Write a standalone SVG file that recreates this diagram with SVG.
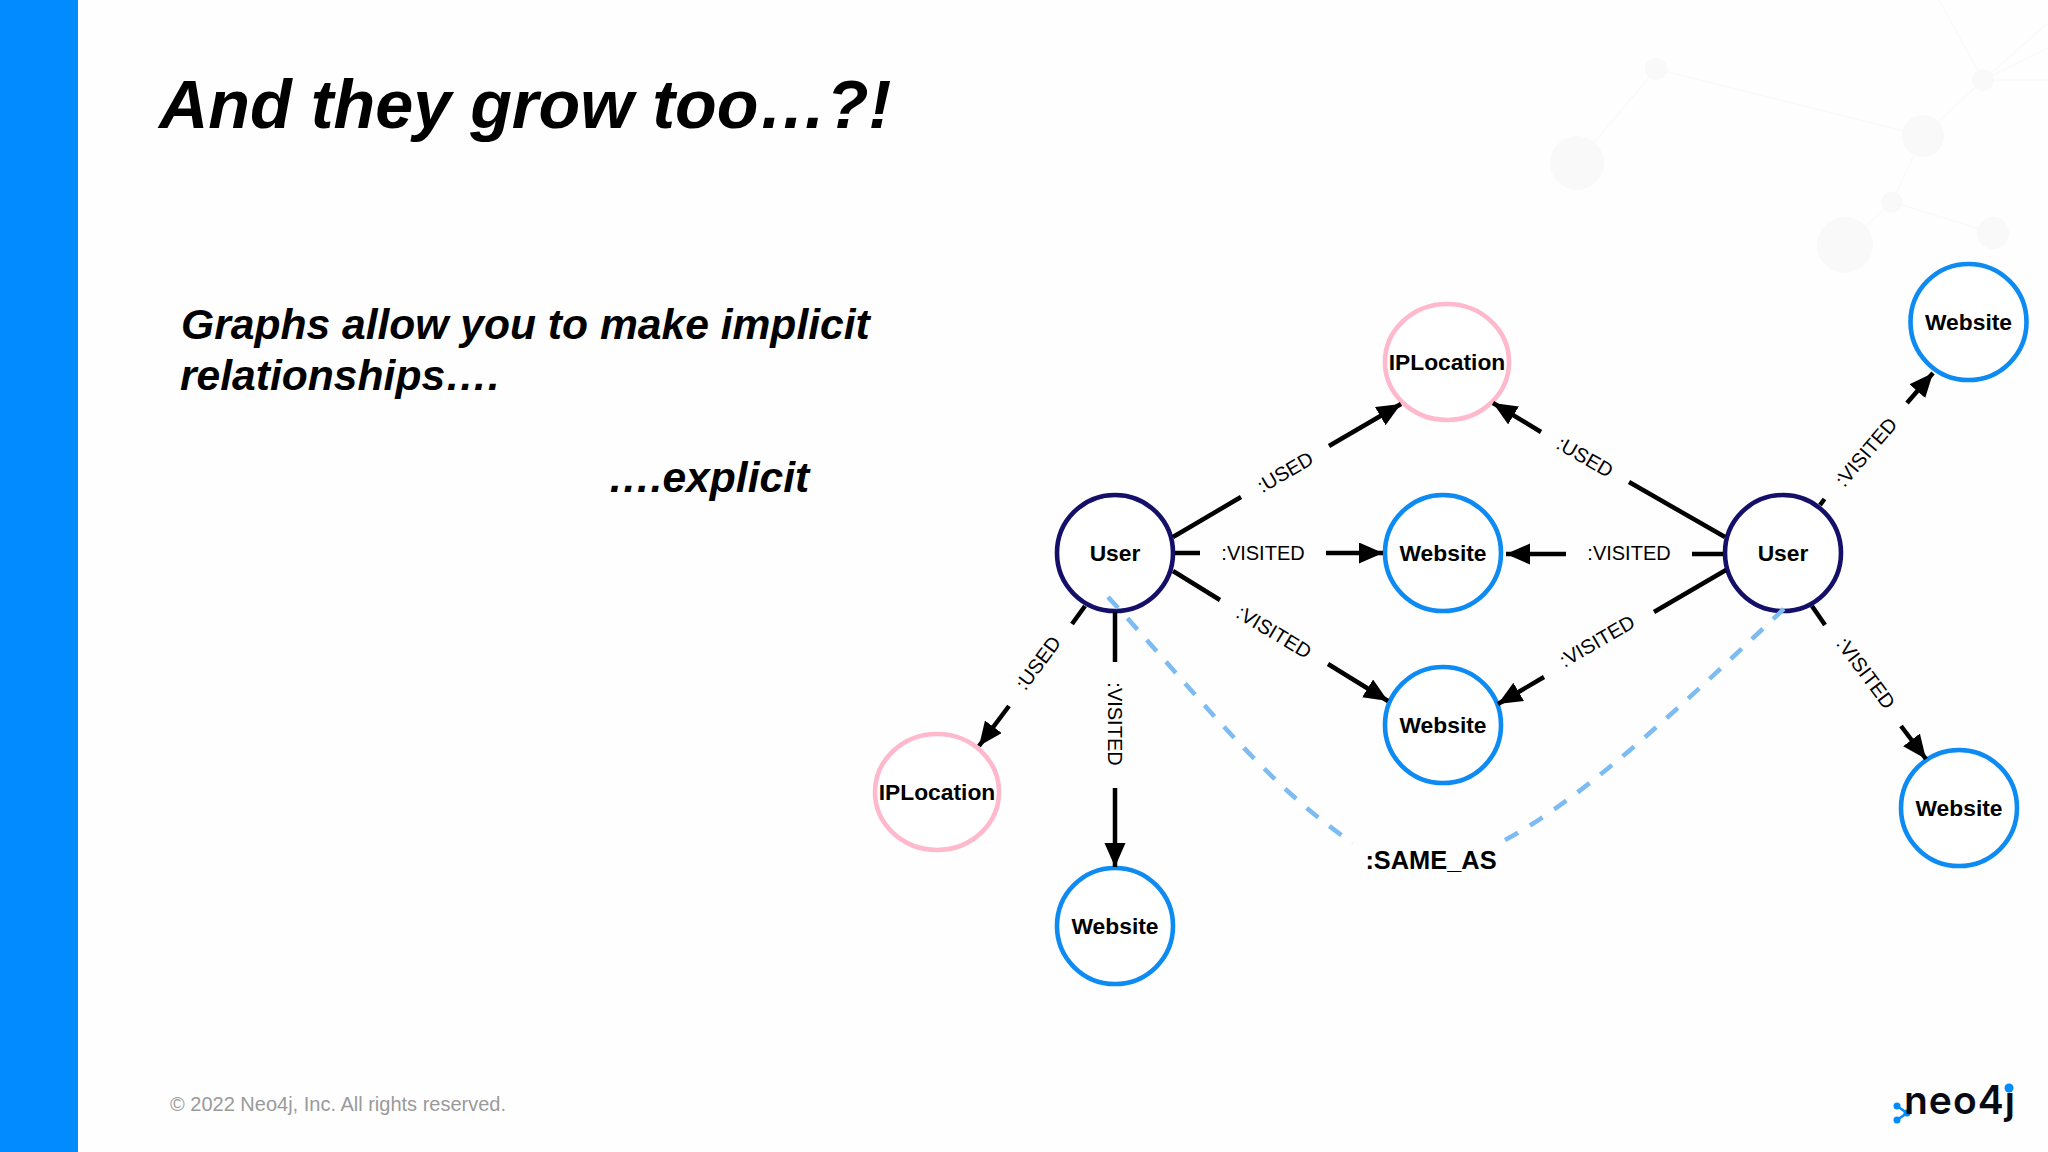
<svg xmlns="http://www.w3.org/2000/svg" width="2048" height="1152" viewBox="0 0 2048 1152">
<style>
text{font-family:"Liberation Sans",Arial,sans-serif}
.hd{font-weight:700;font-style:italic;fill:#000}
.nl{font-size:22.8px;font-weight:700;text-anchor:middle;fill:#000}
.el{font-size:20px;text-anchor:middle;fill:#000}
.nd{fill:#fff;stroke-width:4.6}
.web{stroke:#0d8bf3}.usr{stroke:#14106a}.ip{stroke:#ffb9cc}
.ln{fill:none;stroke:#000;stroke-width:4.5}
.ar{marker-end:url(#ah)}
.same{fill:none;stroke:#7dbbf3;stroke-width:4.6;stroke-dasharray:15 14}
.bgn{fill:#f8f9f8}.bgl{stroke:#f9faf9;stroke-width:1.5;fill:none}
</style>
<defs>
<marker id="ah" markerUnits="userSpaceOnUse" markerWidth="26" markerHeight="22" refX="24" refY="10.5" orient="auto"><path d="M0 0L24 10.5L0 21Z" fill="#000"/></marker>
</defs>
<rect width="2048" height="1152" fill="#fefefe"/>
<rect width="78" height="1152" fill="#018bff"/>
<g id="backdrop">
<path class="bgl" d="M1577 163L1656 69L1923 136L1983 80L1939 0M1923 136L1892 202L1845 245M1892 202L1993 233M1983 80L2048 80M1983 80L2048 48M1983 80L2048 23"/>
<circle class="bgn" cx="1577" cy="163" r="27"/><circle class="bgn" cx="1656" cy="69" r="11"/><circle class="bgn" cx="1923" cy="136" r="21"/><circle class="bgn" cx="1983" cy="80" r="11"/><circle class="bgn" cx="1892" cy="202" r="10.5"/><circle class="bgn" cx="1845" cy="245" r="28"/><circle class="bgn" cx="1993" cy="233" r="16"/>
</g>
<text class="hd" x="159" y="128" font-size="68.3">And they grow too…?!</text>
<text class="hd" x="181" y="339" font-size="42.6">Graphs allow you to make implicit</text>
<text class="hd" x="180" y="390" font-size="42.6">relationships….</text>
<text class="hd" x="608" y="492" font-size="42.6">….explicit</text>
<g id="nodes">
<g id="user1"><circle class="nd usr" cx="1115" cy="553" r="58"/><text class="nl" x="1115" y="561">User</text></g>
<g id="user2"><circle class="nd usr" cx="1783" cy="553" r="58"/><text class="nl" x="1783" y="561">User</text></g>
<g id="ip1"><ellipse class="nd ip" cx="1447" cy="362" rx="62" ry="58"/><text class="nl" x="1447" y="370">IPLocation</text></g>
<g id="ip2"><ellipse class="nd ip" cx="937" cy="792" rx="62" ry="58"/><text class="nl" x="937" y="800">IPLocation</text></g>
<g id="web1"><circle class="nd web" cx="1443" cy="553" r="58"/><text class="nl" x="1443" y="561">Website</text></g>
<g id="web2"><circle class="nd web" cx="1443" cy="725" r="58"/><text class="nl" x="1443" y="733">Website</text></g>
<g id="web3"><circle class="nd web" cx="1115" cy="926" r="58"/><text class="nl" x="1115" y="934">Website</text></g>
<g id="web4"><circle class="nd web" cx="1968.5" cy="322" r="58"/><text class="nl" x="1968.5" y="330">Website</text></g>
<g id="web5"><circle class="nd web" cx="1959" cy="808" r="58"/><text class="nl" x="1959" y="816">Website</text></g>
</g>
<g id="connectors">
<path class="ln" d="M1173 537L1241 497"/><path class="ln ar" d="M1329 446L1401 404"/>
<path class="ln" d="M1175 553L1200 553"/><path class="ln ar" d="M1326 553L1383 553"/>
<path class="ln" d="M1173 571L1220 600"/><path class="ln ar" d="M1328 664L1388 701"/>
<path class="ln" d="M1085 606L1072 624"/><path class="ln ar" d="M1009 706L979 746"/>
<path class="ln" d="M1115 612L1115 662"/><path class="ln ar" d="M1115 788L1115 867"/>
<path class="ln" d="M1725 537L1629 482"/><path class="ln ar" d="M1541 432L1493 403"/>
<path class="ln" d="M1723 554L1692 554"/><path class="ln ar" d="M1566 554L1506 554"/>
<path class="ln" d="M1726 570L1654 612"/><path class="ln ar" d="M1544 677L1498 704"/>
<path class="ln" d="M1820 505L1824.5 499"/><path class="ln ar" d="M1907 403L1933 373"/>
<path class="ln" d="M1812 606L1825 625"/><path class="ln ar" d="M1901 726L1926 759"/>
<path class="same" d="M1108 597C1185 680 1265 785 1353 843"/>
<path class="same" d="M1505 840C1590 795 1700 688 1788 605"/>
<g id="edge-labels">
<text class="el" y="7" transform="translate(1285 472) rotate(-30.3)">:USED</text>
<text class="el" y="7" transform="translate(1263 553)">:VISITED</text>
<text class="el" y="7" transform="translate(1274 632) rotate(31)">:VISITED</text>
<text class="el" y="7" transform="translate(1038 663) rotate(-53)">:USED</text>
<text class="el" y="7" transform="translate(1115 724) rotate(90)">:VISITED</text>
<text class="el" y="7" transform="translate(1585 457) rotate(30)">:USED</text>
<text class="el" y="7" transform="translate(1629 553)">:VISITED</text>
<text class="el" y="7" transform="translate(1597 641) rotate(-30)">:VISITED</text>
<text class="el" y="7" transform="translate(1866 452) rotate(-49.4)">:VISITED</text>
<text class="el" y="7" transform="translate(1866 673) rotate(53.4)">:VISITED</text>
<text x="1431" y="869" font-size="25.4" font-weight="700" text-anchor="middle">:SAME_AS</text>
</g>
</g>
<text x="170" y="1111" font-size="20" fill="#9a9a9a">© 2022 Neo4j, Inc. All rights reserved.</text>
<g id="logo">
<path d="M1897 1106L1907 1113L1897 1120" fill="none" stroke="#018bff" stroke-width="2.5"/>
<circle cx="1897" cy="1106" r="3.5" fill="#018bff"/><circle cx="1907" cy="1113" r="3.5" fill="#018bff"/><circle cx="1897" cy="1120" r="3.5" fill="#018bff"/>
<text x="1904" y="1114" font-size="39" font-weight="600" letter-spacing="1" style="font-family:Inter,sans-serif" fill="#0a0a14">neo4j</text>
<circle cx="2009" cy="1088" r="4.5" fill="#018bff"/>
</g>
</svg>
